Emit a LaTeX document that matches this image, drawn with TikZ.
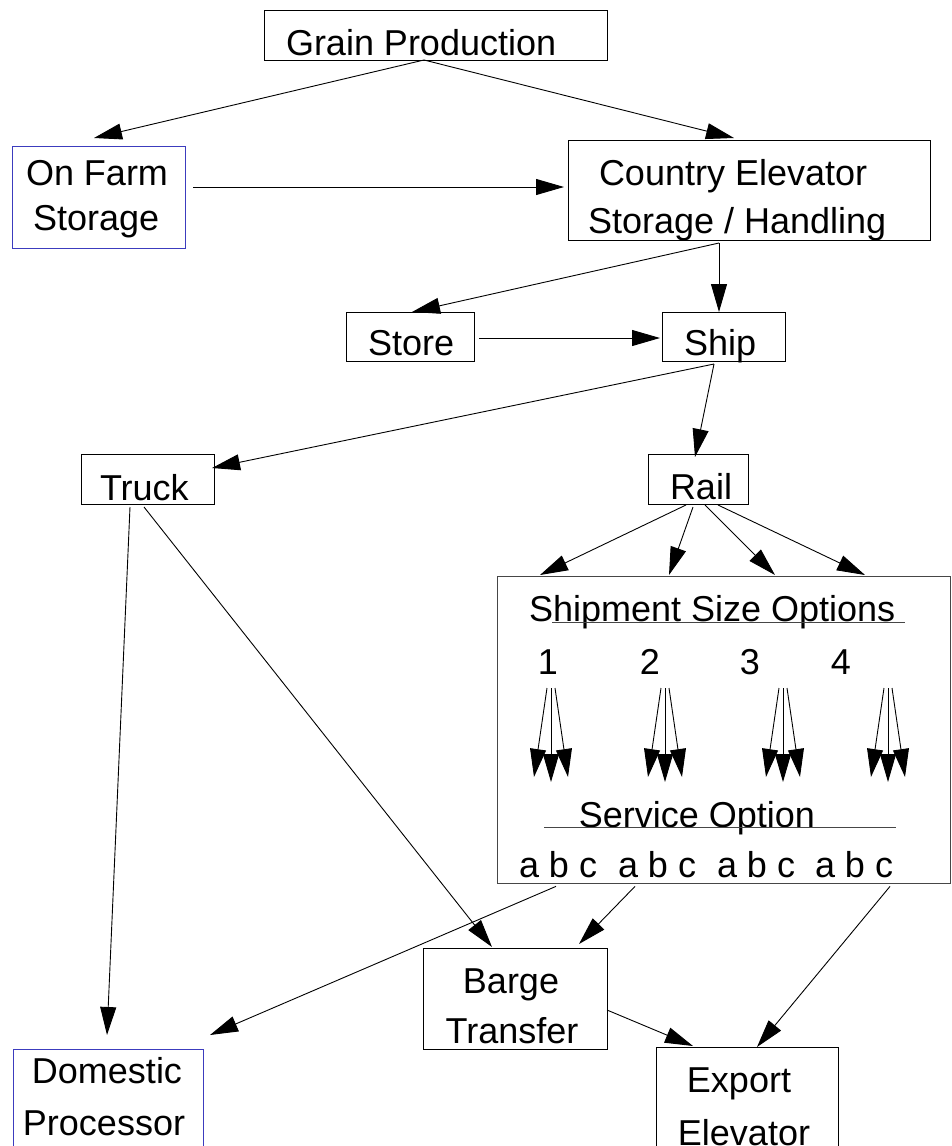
\documentclass[tikz,border=0pt]{standalone}
\usepackage{fontspec}
\setmainfont{Liberation Sans}
\usetikzlibrary{arrows.meta}
\definecolor{boxblue}{RGB}{60,60,190}
\definecolor{boxgray}{RGB}{70,70,70}
\begin{document}
\begin{tikzpicture}[x=1pt,y=-1pt,
  box/.style={draw=black,line width=1pt,inner sep=0pt,outer sep=0pt,rectangle},
  bluebox/.style={box,draw=boxblue},
  lbl/.style={inner sep=0pt,outer sep=0pt,font=\fontsize{36}{44}\selectfont},
  arr/.style={line width=0.9pt,-{Triangle[length=28pt,width=16pt]}},
  rulestyle/.style={line width=1pt,draw=boxgray}]
\useasboundingbox (0,0) rectangle (951,1146);
\clip (0,0) rectangle (951,1146);
\fill[white] (0,0) rectangle (951,1146);

% boxes
\node[box,minimum width=343pt,minimum height=50pt] (grain) at (435.5,35) {};
\node[bluebox,minimum width=173pt,minimum height=102pt] (onfarm) at (98.5,197) {};
\node[box,minimum width=362pt,minimum height=100pt] (country) at (749,190) {};
\node[box,minimum width=128pt,minimum height=49pt] (store) at (410,336.5) {};
\node[box,minimum width=123pt,minimum height=49pt] (ship) at (723.5,336.5) {};
\node[box,minimum width=133pt,minimum height=50pt] (truck) at (147.5,479) {};
\node[box,minimum width=100pt,minimum height=50pt] (rail) at (698,479) {};
\node[box,draw=boxgray,minimum width=453pt,minimum height=307pt] (shipbox) at (723.5,729.5) {};
\node[box,minimum width=184pt,minimum height=101pt] (barge) at (515,998.5) {};
\node[bluebox,minimum width=190pt,minimum height=111pt] (domestic) at (108,1104.5) {};
\node[box,minimum width=182pt,minimum height=113pt] (export) at (747,1103.5) {};

% texts
\node[lbl,anchor=base west] (tgrain) at (286,55) {Grain Production};
\node[lbl,anchor=base west] (tonfarm1) at (26,185) {On Farm};
\node[lbl,anchor=base west] (tonfarm2) at (33,230) {Storage};
\node[lbl,anchor=base west] (tcountry1) at (599,185) {Country Elevator};
\node[lbl,anchor=base west] (tcountry2) at (588,233) {Storage / Handling};
\node[lbl,anchor=base west] (tstore) at (368,355) {Store};
\node[lbl,anchor=base west] (tship) at (684,355) {Ship};
\node[lbl,anchor=base west] (ttruck) at (100,500) {Truck};
\node[lbl,anchor=base west] (trail) at (670,499) {Rail};
\node[lbl,anchor=base west] (tsso) at (529,621) {Shipment Size Options};
\node[lbl,anchor=base] (n1) at (548,674) {1};
\node[lbl,anchor=base] (n2) at (650,674) {2};
\node[lbl,anchor=base] (n3) at (750,674) {3};
\node[lbl,anchor=base] (n4) at (841,674) {4};
\node[lbl,anchor=base] (tservice) at (697,827) {Service Option};
\node[lbl,anchor=base west] (abc1) at (519,877) {a b c};
\node[lbl,anchor=base west] (abc2) at (618,877) {a b c};
\node[lbl,anchor=base west] (abc3) at (717,877) {a b c};
\node[lbl,anchor=base west] (abc4) at (815,877) {a b c};
\node[lbl,anchor=base] (tbarge1) at (511,993) {Barge};
\node[lbl,anchor=base] (tbarge2) at (512,1043) {Transfer};
\node[lbl,anchor=base] (tdom1) at (107,1083) {Domestic};
\node[lbl,anchor=base] (tdom2) at (104,1135) {Processor};
\node[lbl,anchor=base] (texp1) at (739,1092) {Export};
\node[lbl,anchor=base] (texp2) at (744,1145) {Elevator};

% rules in the shipment box
\draw[rulestyle] (552,622) -- (905,622);
\draw[rulestyle] (544,827) -- (896,827);

% connectors
\draw[arr] ([xshift=-11.5pt]grain.south) -- ([xshift=-4.5pt,yshift=8pt]onfarm.north);
\draw[arr] ([xshift=-11.5pt]grain.south) -- ([xshift=-15pt,yshift=2pt]country.north);
\draw[arr] ([xshift=8pt,yshift=10pt]onfarm.east) -- ([xshift=-4pt,yshift=3pt]country.west);
\draw[arr] ([xshift=-30pt,yshift=-3pt]country.south) -- ([xshift=2pt]store.north);
\draw[arr] ([xshift=-30pt,yshift=-3pt]country.south) -- ([xshift=-4.5pt]ship.north);
\draw[arr] ([xshift=5pt,yshift=-1.5pt]store.east) -- ([xshift=-2pt,yshift=-1.5pt]ship.west);
\draw[arr] ([xshift=-9.5pt,yshift=-3pt]ship.south) -- ([xshift=-2pt,yshift=11pt]truck.east);
\draw[arr] ([xshift=-9.5pt,yshift=-3pt]ship.south) -- ([xshift=-3pt,yshift=-3pt]rail.north);
\draw[arr] ([xshift=-12pt,yshift=-1pt]rail.south) -- ([xshift=-183.5pt,yshift=1pt]shipbox.north);
\draw[arr] ([xshift=-5pt,yshift=-3pt]rail.south) -- ([xshift=-54.5pt,yshift=1pt]shipbox.north);
\draw[arr] ([xshift=7pt,yshift=-1pt]rail.south) -- ([xshift=51.5pt,yshift=1pt]shipbox.north);
\draw[arr] ([xshift=20pt,yshift=-1pt]rail.south) -- ([xshift=141.5pt,yshift=1pt]shipbox.north);
\draw[arr] ([xshift=-17.5pt,yshift=-3pt]truck.south) -- ([xshift=-1pt,yshift=14pt]domestic.north);
\draw[arr] ([xshift=-3.5pt,yshift=-3pt]truck.south) -- ([xshift=-23pt,yshift=1pt]barge.north);
\draw[arr] ([xshift=-2pt,yshift=-9pt]abc1.south) -- ([xshift=7pt,yshift=14pt]domestic.north east);
\draw[arr] ([xshift=-22pt,yshift=-9pt]abc2.south) -- ([xshift=64pt,yshift=4pt]barge.north);
\draw[arr] ([xshift=36pt,yshift=-9pt]abc4.south) -- ([xshift=10pt]export.north);
\draw[arr] ([yshift=-11.5pt]barge.east) -- ([xshift=-54pt,yshift=1pt]export.north);

% service option fans inside the shipment box
\foreach \cx in {551,665,783,888} {
  \draw[arr] (\cx-4,688) -- (\cx-17,777);
  \draw[arr] (\cx,688) -- (\cx,782);
  \draw[arr] (\cx+4,688) -- (\cx+17,777);
}
\end{tikzpicture}
\end{document}
